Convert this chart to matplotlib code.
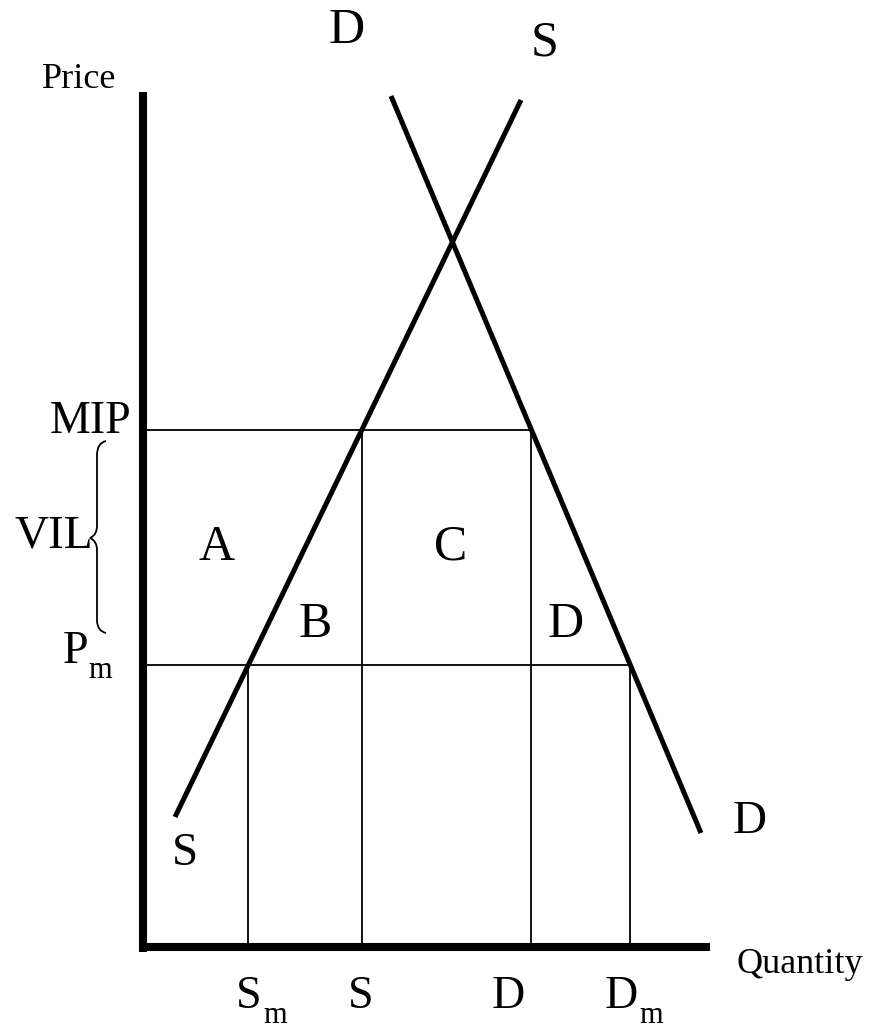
import numpy as np
import matplotlib
matplotlib.use("Agg")
import matplotlib.pyplot as plt
from matplotlib.path import Path
from matplotlib.patches import PathPatch

plt.rcParams['font.family'] = ['Liberation Serif', 'DejaVu Serif']

# model values (quantity right of the price axis, price above the quantity axis)
supply_q = [32, 378]
supply_p = [130, 847]
demand_q = [248, 558]
demand_p = [851, 114]
mip = 517      # minimum import price
p_m = 282      # world market price

# quantities where the price levels meet the curves
s_m = np.interp(p_m, supply_p, supply_q)
s_mip = np.interp(mip, supply_p, supply_q)
d_mip = np.interp(mip, demand_p[::-1], demand_q[::-1])
d_m = np.interp(p_m, demand_p[::-1], demand_q[::-1])

fig = plt.figure(figsize=(8.72, 10.29), dpi=100)
ax = fig.add_axes([0, 0, 1, 1])
ax.set_xlim(-143, 729)
ax.set_ylim(-82, 947)
ax.axis('off')

k = 'black'
# axes
ax.plot([0, 0], [-5, 855], color=k, lw=5.8, solid_capstyle='butt')
ax.plot([-4, 567], [0, 0], color=k, lw=5.8, solid_capstyle='butt')

# supply and demand
ax.plot(supply_q, supply_p, color=k, lw=3.6, solid_capstyle='butt')
ax.plot(demand_q, demand_p, color=k, lw=3.6, solid_capstyle='butt')

# price levels and quantity drops
thin = 1.3
ax.plot([0, d_mip], [mip, mip], color=k, lw=thin)
ax.plot([0, d_m], [p_m, p_m], color=k, lw=thin)
for q, top in [(s_m, p_m), (s_mip, mip), (d_mip, mip), (d_m, p_m)]:
    ax.plot([q, q], [0, top], color=k, lw=thin)

# brace for VIL
def px(x, y):
    return (x - 143, 947 - y)

verts = [px(106, 441), px(97, 443), px(97, 455),
         px(97, 526),
         px(97, 535), px(90, 538),
         px(97, 541), px(97, 550),
         px(97, 620),
         px(97, 631), px(106, 633)]
codes = [Path.MOVETO, Path.CURVE3, Path.CURVE3,
         Path.LINETO,
         Path.CURVE3, Path.CURVE3,
         Path.CURVE3, Path.CURVE3,
         Path.LINETO,
         Path.CURVE3, Path.CURVE3]
ax.add_patch(PathPatch(Path(verts, codes), fill=False, lw=1.3, ec=k))

def label(x, y, s, size, ha='center'):
    xd, yd = px(x, y)
    ax.text(xd, yd, s, fontsize=size, ha=ha, va='baseline', color=k)

big = 36
mid = 33
sub = 22
label(79, 88, 'Price', 26)
label(800, 973, 'Quantity', 26)
label(347, 43, 'D', big)
label(545, 55, 'S', big)
label(750, 833, 'D', 34)
label(185, 865, 'S', 34)
label(217, 560, 'A', big)
label(315, 637, 'B', big)
label(451, 560, 'C', big)
label(566, 637, 'D', big)
label(90, 433, 'MIP', mid)
label(54, 548, 'VIL', 34)
label(75, 663, 'P', mid)
label(88, 678, 'm', sub, ha='left')

# quantity labels
label(249, 1008, 'S', mid)
label(263, 1023, 'm', sub, ha='left')
label(361, 1008, 'S', mid)
label(508, 1008, 'D', mid)
label(621, 1008, 'D', mid)
label(639, 1023, 'm', sub, ha='left')

fig.savefig('out.png', dpi=100)
